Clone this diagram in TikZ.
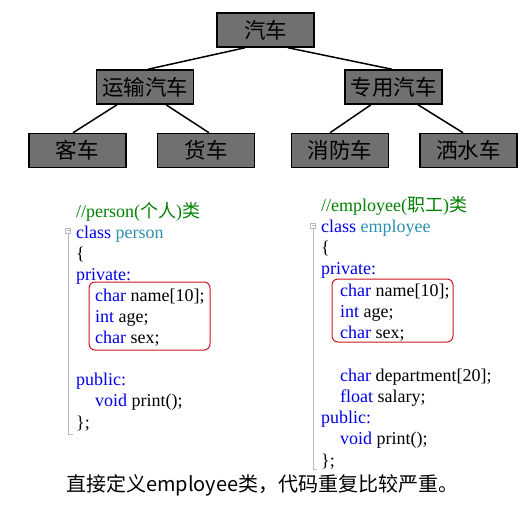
\documentclass[tikz,border=0pt]{standalone}
\usepackage{fontspec}
\setmainfont{Liberation Serif}
\newfontfamily\cjk{Noto Sans CJK SC}
\usetikzlibrary{positioning}

\definecolor{kwblue}{RGB}{0,0,230}
\definecolor{clsteal}{RGB}{43,145,175}
\definecolor{cmtgreen}{RGB}{0,128,0}
\definecolor{boxred}{RGB}{200,20,30}
\definecolor{cargray}{RGB}{112,112,112}
\newcommand{\kw}[1]{\textcolor{kwblue}{#1}}

\begin{document}
\begin{tikzpicture}[x=1pt,y=-1pt]
	\tikzstyle{car}=[draw=black,line width=1.5pt,fill=cargray,minimum width=97pt,minimum height=34pt,inner sep=0pt,font=\cjk\fontsize{21.5}{21.5}\selectfont]
	\tikzstyle{link}=[draw=black,line width=1.5pt]
	\tikzstyle{code}=[anchor=base west,inner sep=0pt,font=\fontsize{18}{18}\selectfont]
	\tikzstyle{keep}=[draw=boxred,line width=1pt,rounded corners=6pt,inner sep=0pt]
	\tikzstyle{gutter}=[draw=gray!55,line width=0.8pt]

	\useasboundingbox (0,0) rectangle (528,504);

	% the car tree
	\node[car] (car) at (265.5,30) {汽车};
	\node[car] (transport) at (145,87) {运输汽车};
	\node[car] (special) at (393.5,87) {专用汽车};
	\node[car] (bus) at (77.5,150.5) {客车};
	\node[car] (truck) at (206,150.5) {货车};
	\node[car] (fire) at (340,150.5) {消防车};
	\node[car] (sprinkler) at (468.5,150.5) {洒水车};

	\path[link] ([xshift=-20.5pt]car.south) -- ([xshift=3pt]transport.north);
	\path[link] ([xshift=22.5pt]car.south) -- ([xshift=-1.5pt]special.north);
	\path[link] ([xshift=-28pt]transport.south) -- ([xshift=-4.5pt]bus.north);
	\path[link] ([xshift=21pt]transport.south) -- ([xshift=3pt]truck.north);
	\path[link] ([xshift=-22.5pt]special.south) -- ([xshift=-10pt]fire.north);
	\path[link] ([xshift=24.5pt]special.south) -- ([xshift=-5.5pt]sprinkler.north);

	% person class
	\draw[gutter] (65.7,228) rectangle (70.7,233);
	\draw[gutter] (66.7,230.5) -- (69.7,230.5);
	\draw[gutter] (68.2,233) -- (68.2,434) -- (73,434);
	\foreach \k/\dx/\t in {
		0/0/{\textcolor{cmtgreen}{//person({\cjk 个人}){\cjk 类}}},
		1/0/{\kw{class} \textcolor{clsteal}{person}},
		2/0/{\{},
		3/0/{\kw{private:}},
		4/19/{\kw{char} name[10];},
		5/19/{\kw{int} age;},
		6/19/{\kw{char} sex;},
		8/0/{\kw{public:}},
		9/19/{\kw{void} print();},
		10/0/{\};}}
		\node[code] (p\k) at (76+\dx,217+21.1*\k) {\t};
	\node[keep,minimum width=121pt,minimum height=68pt] (pkeep) at (149.5,316) {};

	% employee class
	\draw[gutter] (310.7,223) rectangle (315.7,228);
	\draw[gutter] (311.7,225.5) -- (314.7,225.5);
	\draw[gutter] (313.2,228) -- (313.2,469) -- (317,469);
	\foreach \k/\dx/\t in {
		0/0/{\textcolor{cmtgreen}{//employee({\cjk 职工}){\cjk 类}}},
		1/0/{\kw{class} \textcolor{clsteal}{employee}},
		2/0/{\{},
		3/0/{\kw{private:}},
		4/19/{\kw{char} name[10];},
		5/19/{\kw{int} age;},
		6/19/{\kw{char} sex;},
		8/19/{\kw{char} department[20];},
		9/19/{\kw{float} salary;},
		10/0/{\kw{public:}},
		11/19/{\kw{void} print();},
		12/0/{\};}}
		\node[code] (e\k) at (321+\dx,211+21.25*\k) {\t};
	\node[keep,minimum width=121pt,minimum height=63pt] (ekeep) at (392.5,310.5) {};

	\node[anchor=west,inner sep=0pt,font=\cjk\fontsize{20}{20}\selectfont] (remark) at (66,485) {直接定义employee类，代码重复比较严重。};
\end{tikzpicture}
\end{document}
